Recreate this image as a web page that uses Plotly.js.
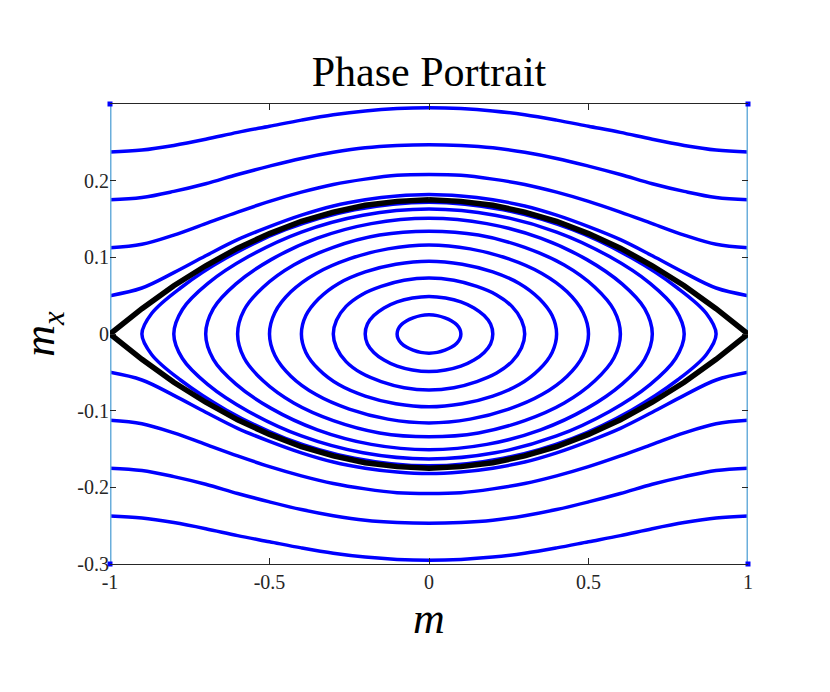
<!DOCTYPE html>
<html>
<head>
<meta charset="utf-8">
<script src="https://cdn.plot.ly/plotly-3.0.1.min.js"></script>
<style>
  html, body { margin: 0; padding: 0; background: #fff; }
  #chart { width: 830px; height: 692px; }
</style>
</head>
<body>
<div id="chart"></div>
<script>
// Phase portrait: closed orbits around the centre, open orbits above/below,
// separatrix through the saddles at m = ±1.

const BLUE = "#0000ff";
const EDGE_BLUE = "#6aaedb";
const SEP_COLOR = "#000000";
const AXIS_COLOR = "#262626";
const FONT = "'Liberation Serif', 'DejaVu Serif', serif";

// closed orbits, first quadrant only (top of orbit -> turning point)
const ringM = [
  [0, 0.026, 0.05, 0.071, 0.087, 0.097, 0.1],
  [0, 0.052, 0.1, 0.141, 0.173, 0.193, 0.2],
  [0, 0.078, 0.15, 0.212, 0.26, 0.29, 0.3],
  [0, 0.104, 0.2, 0.283, 0.346, 0.386, 0.4],
  [0, 0.129, 0.25, 0.354, 0.433, 0.483, 0.5],
  [0, 0.155, 0.3, 0.424, 0.52, 0.58, 0.6],
  [0, 0.181, 0.35, 0.495, 0.606, 0.676, 0.7],
  [0, 0.207, 0.4, 0.566, 0.693, 0.773, 0.8],
  [0, 0.233, 0.45, 0.636, 0.779, 0.869, 0.9],
];
const ringMx = [
  [0.025, 0.024, 0.021, 0.017, 0.012, 0.006, 0],
  [0.049, 0.047, 0.042, 0.034, 0.024, 0.013, 0],
  [0.073, 0.070, 0.062, 0.051, 0.036, 0.018, 0],
  [0.095, 0.091, 0.081, 0.066, 0.046, 0.024, 0],
  [0.116, 0.111, 0.098, 0.079, 0.055, 0.028, 0],
  [0.134, 0.129, 0.113, 0.090, 0.061, 0.031, 0],
  [0.151, 0.144, 0.125, 0.097, 0.065, 0.033, 0],
  [0.163, 0.155, 0.133, 0.101, 0.066, 0.032, 0],
  [0.172, 0.162, 0.136, 0.099, 0.060, 0.027, 0],
];

// open orbits, right half (m = 0 .. 1), upper branch
const openM = [0, 0.1, 0.2, 0.3, 0.4, 0.5, 0.6, 0.7, 0.8, 0.9, 1];
const openMx = [
  [0.182, 0.180, 0.175, 0.167, 0.155, 0.140, 0.123, 0.102, 0.080, 0.060, 0.050],
  [0.208, 0.207, 0.202, 0.195, 0.185, 0.173, 0.159, 0.144, 0.129, 0.117, 0.1125],
  [0.247, 0.246, 0.243, 0.237, 0.229, 0.219, 0.208, 0.196, 0.186, 0.178, 0.175],
  [0.295, 0.294, 0.291, 0.286, 0.279, 0.271, 0.263, 0.254, 0.246, 0.240, 0.2375],
];

// outermost open orbit only touches the window at the corners
const cornerM = [-1, 1, -1, 1];
const cornerMx = [0.3, 0.3, -0.3, -0.3];

// separatrix, right half, upper branch
const sepM = [0, 0.1, 0.2, 0.3, 0.4, 0.5, 0.6, 0.7, 0.8, 0.9, 1];
const sepMx = [0.175, 0.173, 0.168, 0.159, 0.147, 0.131, 0.112, 0.089, 0.063, 0.033, 0];

// invariant lines m = ±1
const wallM = [-1, 1];
const wallMx = [-0.3, 0.3];

const xTicks = [-1, -0.5, 0, 0.5, 1];
const xTickText = ["-1", "-0.5", "0", "0.5", "1"];
const yTicks = [-0.3, -0.2, -0.1, 0, 0.1, 0.2];
const yTickText = ["-0.3", "-0.2", "-0.1", "0", "0.1", "0.2"];

// walk a first-quadrant arc round all four quadrants, starting at the top
function closedLoop(qm, qmx) {
  const x = [], y = [];
  const n = qm.length;
  for (let i = 0; i < n; i++) { x.push(qm[i]); y.push(qmx[i]); }
  for (let i = n - 2; i >= 0; i--) { x.push(qm[i]); y.push(-qmx[i]); }
  for (let i = 1; i < n; i++) { x.push(-qm[i]); y.push(-qmx[i]); }
  for (let i = n - 2; i >= 0; i--) { x.push(-qm[i]); y.push(qmx[i]); }
  return { x, y };
}

// left + right halves of an upper branch, then the mirrored lower branch
function openOrbit(hm, hmx) {
  const x = [], y = [];
  const n = hm.length;
  for (let i = n - 1; i > 0; i--) { x.push(-hm[i]); y.push(hmx[i]); }
  for (let i = 0; i < n; i++) { x.push(hm[i]); y.push(hmx[i]); }
  x.push(null); y.push(null);
  for (let i = n - 1; i > 0; i--) { x.push(-hm[i]); y.push(-hmx[i]); }
  for (let i = 0; i < n; i++) { x.push(hm[i]); y.push(-hmx[i]); }
  return { x, y };
}

const traces = [];

openMx.forEach((row) => {
  const p = openOrbit(openM, row);
  traces.push({
    x: p.x, y: p.y, type: "scatter", mode: "lines",
    line: { color: BLUE, width: 3.5, shape: "spline" },
    connectgaps: false, hoverinfo: "skip",
  });
});

ringM.forEach((qm, k) => {
  const p = closedLoop(qm, ringMx[k]);
  traces.push({
    x: p.x, y: p.y, type: "scatter", mode: "lines",
    line: { color: BLUE, width: 3.5, shape: "spline" },
    hoverinfo: "skip",
  });
});

wallM.forEach((m) => {
  traces.push({
    x: [m, m], y: wallMx, type: "scatter", mode: "lines",
    line: { color: EDGE_BLUE, width: 3 },
    hoverinfo: "skip",
  });
});

traces.push({
  x: cornerM, y: cornerMx, type: "scatter", mode: "markers",
  marker: { color: BLUE, size: 5, symbol: "square" },
  cliponaxis: false, hoverinfo: "skip",
});

// separatrix as one path: top -> right saddle -> bottom -> left saddle -> top
{
  const x = [], y = [];
  const n = sepM.length;
  for (let i = 0; i < n; i++) { x.push(sepM[i]); y.push(sepMx[i]); }
  for (let i = n - 2; i >= 0; i--) { x.push(sepM[i]); y.push(-sepMx[i]); }
  for (let i = 1; i < n; i++) { x.push(-sepM[i]); y.push(-sepMx[i]); }
  for (let i = n - 2; i >= 0; i--) { x.push(-sepM[i]); y.push(sepMx[i]); }
  traces.push({
    x, y, type: "scatter", mode: "lines",
    line: { color: SEP_COLOR, width: 5.5 },
    hoverinfo: "skip",
  });
}

const axisBase = {
  showgrid: false,
  zeroline: false,
  ticks: "inside",
  ticklen: 6,
  tickwidth: 1,
  tickcolor: AXIS_COLOR,
  tickfont: { family: FONT, size: 20, color: AXIS_COLOR },
  mirror: "ticks",
  tickmode: "array",
};

const layout = {
  width: 830,
  height: 692,
  paper_bgcolor: "#ffffff",
  plot_bgcolor: "#ffffff",
  showlegend: false,
  hovermode: false,
  margin: { l: 110, r: 82, t: 104, b: 128 },
  title: {
    text: "Phase Portrait",
    font: { family: FONT, size: 42, color: "#000000" },
    xref: "paper", x: 0.5, xanchor: "center",
    yref: "container", y: 1 - 71 / 692, yanchor: "middle",
  },
  xaxis: {
    ...axisBase,
    range: [-1, 1],
    tickvals: xTicks,
    ticktext: xTickText,
    showline: true,
    linecolor: AXIS_COLOR,
    linewidth: 1,
    title: { text: "<i>m</i>", font: { family: FONT, size: 44, color: "#000" }, standoff: 10 },
  },
  yaxis: {
    ...axisBase,
    range: [-0.3, 0.3],
    tickvals: yTicks,
    ticktext: yTickText,
    showline: false,
    title: { text: "<i>m</i><sub><i>x</i></sub>", font: { family: FONT, size: 44, color: "#000" }, standoff: 8 },
  },
};

Plotly.newPlot("chart", traces, layout, { staticPlot: true, displayModeBar: false });
</script>
</body>
</html>
